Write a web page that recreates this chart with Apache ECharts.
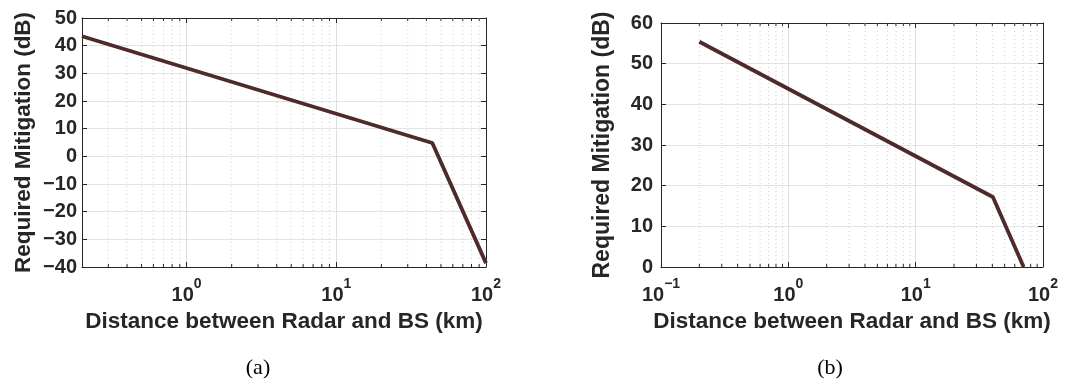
<!DOCTYPE html>
<html>
<head>
<meta charset="utf-8">
<script src="https://cdn.jsdelivr.net/npm/echarts@6/dist/echarts.min.js"></script>
<style>
  html, body { margin: 0; padding: 0; background: #fff; }
  #chart { width: 1080px; height: 385px; }
</style>
</head>
<body>
<div id="chart"></div>
<script>
// ---- data ----
const distA = [0.2, 43.8, 100];
const mitigationA = [43.4, 4.8, -38.6];
const distB = [0.2, 40.4, 70.5];
const mitigationB = [55.4, 17.2, 0];

const xRangeA = [0.2, 100];
const yRangeA = [-40, 50];
const xRangeB = [0.1, 100];
const yRangeB = [0, 60];
const yStep = 10;

const minorA = [0.3, 0.4, 0.5, 0.6, 0.7, 0.8, 0.9, 2, 3, 4, 5, 6, 7, 8, 9, 20, 30, 40, 50, 60, 70, 80, 90];
const minorB = [0.2, 0.3, 0.4, 0.5, 0.6, 0.7, 0.8, 0.9, 2, 3, 4, 5, 6, 7, 8, 9, 20, 30, 40, 50, 60, 70, 80, 90];

const xTitle = 'Distance between Radar and BS (km)';
const yTitle = 'Required Mitigation (dB)';
const captions = ['(a)', '(b)'];

// ---- styles ----
const TXT = '#262626';
const AX = '#262626';
const LINE = '#4e2a2a';
const FONT = '"Liberation Sans", Arial, sans-serif';

function minus(s) { return String(s).replace('-', '\u2212'); }

function powLabel(v) {
  const e = Math.round(Math.log10(v));
  if (Math.abs(v - Math.pow(10, e)) > 1e-6 * v) return '';
  return '{b|10}{s|' + minus(e) + '}';
}

function xAxes(gridIndex, range, nameGap) {
  return [{
    type: 'log', logBase: 10, gridIndex, min: range[0], max: range[1],
    name: xTitle, nameLocation: 'middle', nameGap,
    nameTextStyle: { fontFamily: FONT, fontWeight: 'bold', fontSize: 22.5, color: TXT },
    axisLine: { show: true, onZero: false, lineStyle: { color: AX, width: 1 } },
    axisTick: { show: true, inside: true, length: 5, lineStyle: { color: AX } },
    minorTick: { show: false },
    splitLine: { show: true, lineStyle: { color: '#dedede', width: 1 } },
    axisLabel: {
      margin: 10, formatter: powLabel, color: TXT,
      rich: {
        b: { fontFamily: FONT, fontWeight: 'bold', fontSize: 20, color: TXT, lineHeight: 28, verticalAlign: 'bottom' },
        s: { fontFamily: FONT, fontWeight: 'bold', fontSize: 14, color: TXT, lineHeight: 14, verticalAlign: 'top' }
      }
    }
  }, {
    type: 'log', logBase: 10, gridIndex, min: range[0], max: range[1], position: 'top',
    axisLine: { show: true, onZero: false, lineStyle: { color: AX, width: 1 } },
    axisTick: { show: true, inside: true, length: 5, lineStyle: { color: AX } },
    axisLabel: { show: false }, splitLine: { show: false }
  }];
}

function yAxes(gridIndex, range, nameGap, margin, nameSize) {
  return [{
    type: 'value', gridIndex, min: range[0], max: range[1], interval: yStep,
    name: yTitle, nameLocation: 'middle', nameGap,
    nameTextStyle: { fontFamily: FONT, fontWeight: 'bold', fontSize: nameSize, color: TXT },
    axisLine: { show: true, onZero: false, lineStyle: { color: AX, width: 1 } },
    axisTick: { show: true, inside: true, length: 5, lineStyle: { color: AX } },
    splitLine: { show: true, lineStyle: { color: '#e3e3e3', width: 1 } },
    axisLabel: { margin, fontFamily: FONT, fontWeight: 'bold', fontSize: 20, color: TXT, formatter: minus }
  }, {
    type: 'value', gridIndex, min: range[0], max: range[1], interval: yStep, position: 'right',
    axisLine: { show: true, onZero: false, lineStyle: { color: AX, width: 1 } },
    axisTick: { show: true, inside: true, length: 5, lineStyle: { color: AX } },
    axisLabel: { show: false }, splitLine: { show: false }
  }];
}

function minorSeries(xIdx, yIdx, values) {
  return {
    type: 'custom', xAxisIndex: xIdx, yAxisIndex: yIdx, z: 1, silent: true,
    data: values.map(v => [v]),
    encode: { x: 0 },
    renderItem: function (params, api) {
      const cs = params.coordSys;
      const x = api.coord([api.value(0), 0])[0];
      const top = cs.y, bot = cs.y + cs.height;
      return {
        type: 'group',
        children: [
          { type: 'line', shape: { x1: x, y1: top, x2: x, y2: bot },
            style: { stroke: '#cfcfcf', lineWidth: 1, lineDash: [1, 3] } },
          { type: 'line', shape: { x1: x, y1: bot, x2: x, y2: bot - 3 },
            style: { stroke: AX, lineWidth: 1 } },
          { type: 'line', shape: { x1: x, y1: top, x2: x, y2: top + 3 },
            style: { stroke: AX, lineWidth: 1 } }
        ]
      };
    }
  };
}

function lineSeries(xIdx, yIdx, xs, ys) {
  return {
    type: 'line', xAxisIndex: xIdx, yAxisIndex: yIdx, z: 5,
    data: xs.map((x, i) => [x, ys[i]]),
    symbol: 'none', lineStyle: { color: LINE, width: 3.8 }, silent: true
  };
}

const chart = echarts.init(document.getElementById('chart'), null, { renderer: 'canvas' });
chart.setOption({
  animation: false,
  backgroundColor: '#fff',
  grid: [
    { left: 82, right: 594, top: 18, bottom: 118 },
    { left: 661, right: 37, top: 23, bottom: 118 }
  ],
  xAxis: [...xAxes(0, xRangeA, 35), ...xAxes(1, xRangeB, 42)],
  yAxis: [...yAxes(0, yRangeA, 47, 5, 22.5), ...yAxes(1, yRangeB, 47, 8, 23)],
  series: [
    minorSeries(0, 0, minorA),
    lineSeries(0, 0, distA, mitigationA),
    minorSeries(2, 2, minorB),
    lineSeries(2, 2, distB, mitigationB)
  ],
  graphic: [
    { type: 'text', x: 258, y: 368, style: { text: captions[0], font: '22px "Liberation Serif", "Times New Roman", serif', fill: '#000', textAlign: 'center', textVerticalAlign: 'middle' } },
    { type: 'text', x: 830, y: 368, style: { text: captions[1], font: '22px "Liberation Serif", "Times New Roman", serif', fill: '#000', textAlign: 'center', textVerticalAlign: 'middle' } }
  ]
});
</script>
</body>
</html>
